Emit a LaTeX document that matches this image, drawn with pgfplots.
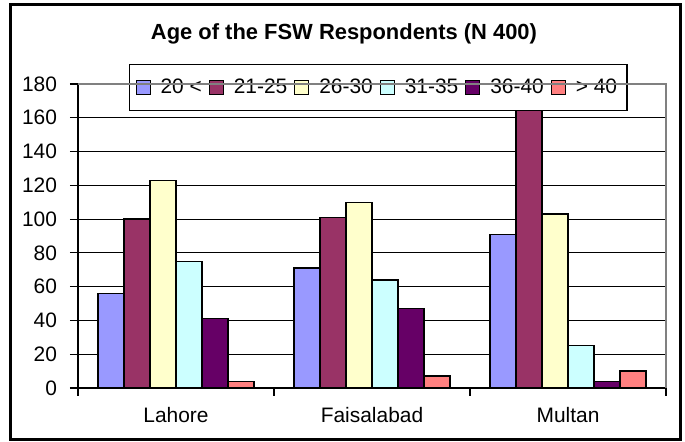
\documentclass[border=0pt]{standalone}
\usepackage{pgfplots}
\pgfplotsset{compat=1.18}
\usepackage{fontspec}
\setmainfont{Liberation Sans}

\definecolor{agea}{HTML}{9999FF}
\definecolor{ageb}{HTML}{993366}
\definecolor{agec}{HTML}{FFFFCC}
\definecolor{aged}{HTML}{CCFFFF}
\definecolor{agee}{HTML}{660066}
\definecolor{agef}{HTML}{FF8080}

\begin{document}
\begin{tikzpicture}
  % page and outer chart frame
  \fill[white] (0,0) rectangle (342.5bp,221bp);
  \draw[line width=1.5bp] (5bp,1.5bp) rectangle (340bp,218.5bp);
  \node[font=\fontsize{11}{13}\selectfont\bfseries] at (172bp,204bp)
    {Age of the FSW Respondents (N 400)};

  \begin{axis}[
    at={(39bp,27bp)}, anchor=south west,
    scale only axis,
    width=294bp, height=152bp,
    ybar=0pt,
    bar width=13bp,
    xmin=-0.5, xmax=2.5,
    ymin=0, ymax=180,
    ytick={0,20,...,180},
    xtick={0,1,2},
    xticklabels={Lahore, Faisalabad, Multan},
    minor xtick={-0.5,0.5,1.5,2.5},
    major x tick style={draw=none},
    tick align=outside,
    tick style={black, line width=0.6bp},
    major tick length=4bp,
    minor tick length=4bp,
    ymajorgrids,
    grid style={black, line width=0.6bp},
    axis x line*=bottom,
    axis y line*=left,
    axis line style={black, line width=0.6bp, -},
    ticklabel style={font=\fontsize{10.5}{12}\selectfont},
    /pgf/number format/assume math mode=true,
    yticklabel style={xshift=-3bp},
    xticklabel style={yshift=-2bp},
    legend columns=6,
    legend style={
      at={(0.0867,1.066)}, anchor=north west,
      font=\fontsize{10.5}{12}\selectfont,
      draw=black, fill=white, line width=0.6bp,
      inner xsep=3bp, inner ysep=5bp,
      /tikz/every even column/.append style={column sep=1.5bp},
      /tikz/every odd column/.append style={column sep=3bp},
    },
    legend image code/.code={
      \draw[#1, line width=0.5bp] (0bp,-3.5bp) rectangle (7bp,3.5bp);
    },
    every axis plot/.append style={draw=black, line width=0.7bp},
    extra description/.code={
      \draw[gray, line width=0.6bp] (rel axis cs:0,1) -- (rel axis cs:1,1) -- (rel axis cs:1,0);
    },
  ]
    \addplot[fill=agea] coordinates {(0,56) (1,71) (2,91)};
    \addplot[fill=ageb] coordinates {(0,100) (1,101) (2,168)};
    \addplot[fill=agec] coordinates {(0,123) (1,110) (2,103)};
    \addplot[fill=aged] coordinates {(0,75) (1,64) (2,25)};
    \addplot[fill=agee] coordinates {(0,41) (1,47) (2,4)};
    \addplot[fill=agef] coordinates {(0,4) (1,7) (2,10)};
    \legend{20 <, 21-25, 26-30, 31-35, 36-40, > 40}
  \end{axis}
\end{tikzpicture}
\end{document}
